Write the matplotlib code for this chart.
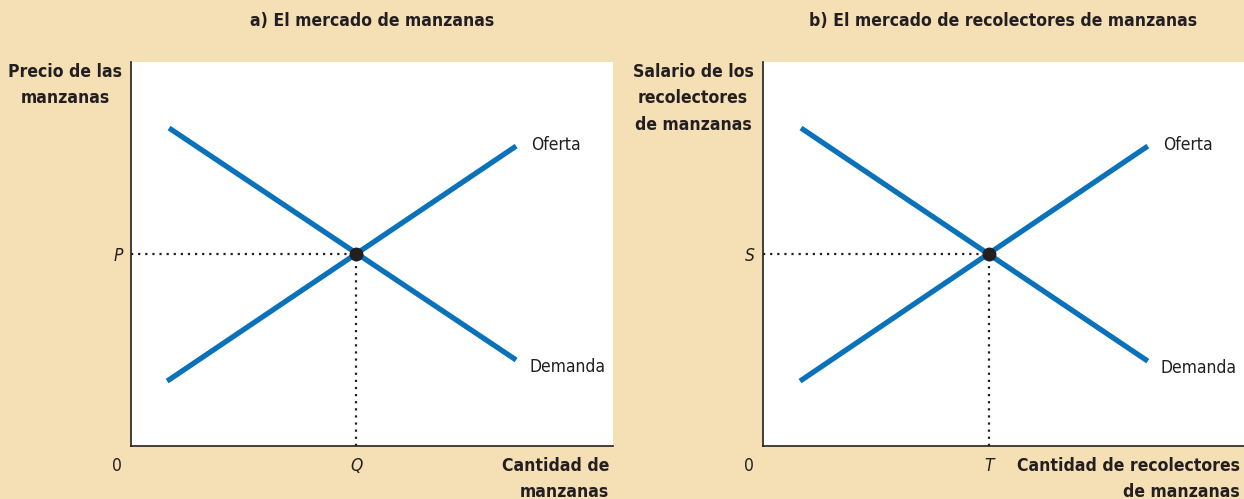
import matplotlib
matplotlib.use("Agg")
import matplotlib.pyplot as plt

plt.rcParams['font.family'] = ['DejaVu Sans']
plt.rcParams['font.stretch'] = 'condensed'

W, H = 1244, 499
BEIGE = '#F5DFB5'
BLUE = '#0A72BA'
DARK = '#231F20'

# Data (abstract units, 0-100 on each axis)
titles = ["a) El mercado de manzanas", "b) El mercado de recolectores de manzanas"]
ylabels = ["Precio de las\nmanzanas", "Salario de los\nrecolectores\nde manzanas"]
xlabels = ["Cantidad de\nmanzanas", "Cantidad de recolectores\nde manzanas"]
price_tick = ["P", "S"]
qty_tick = ["Q", "T"]
demand_x = [[7.9, 79.9], [7.9, 80.0]]
demand_y = [[82.8, 22.4], [82.8, 22.1]]
supply_x = [[7.5, 79.9], [7.7, 80.0]]
supply_y = [[16.9, 78.1], [16.9, 78.1]]
eq_x = [46.7, 47.0]
eq_y = [50.0, 50.0]
curve_labels = ["Oferta", "Demanda"]

fig = plt.figure(figsize=(W/100, H/100), dpi=100)
fig.patch.set_facecolor(BEIGE)

axes_px = [(131, 482), (763, 481)]
title_cx = [372, 1003]
ylab_cx = [65, 693]

def fx(px):
    return px / W

def fy(py):
    return 1 - py / H

for i in range(2):
    left, width = axes_px[i]
    ax = fig.add_axes([fx(left), 53/H, width/W, 384/H])
    ax.set_facecolor('white')
    ax.set_xlim(0, 100)
    ax.set_ylim(0, 100)
    for s in ['top', 'right']:
        ax.spines[s].set_visible(False)
    for s in ['left', 'bottom']:
        ax.spines[s].set_color(DARK)
        ax.spines[s].set_linewidth(1.2)
    ax.plot(demand_x[i], demand_y[i], color=BLUE, lw=3.8, solid_capstyle='butt')
    ax.plot(supply_x[i], supply_y[i], color=BLUE, lw=3.8, solid_capstyle='butt')
    ax.plot([0, eq_x[i]], [eq_y[i], eq_y[i]], color=DARK, lw=1.6, ls=(0, (1, 2.2)))
    ax.plot([eq_x[i], eq_x[i]], [0, eq_y[i]], color=DARK, lw=1.6, ls=(0, (1, 2.2)))
    ax.plot([eq_x[i]], [eq_y[i]], 'o', color=DARK, ms=9, zorder=5)
    ax.set_xticks([eq_x[i]])
    ax.set_xticklabels([qty_tick[i]], fontstyle='italic', fontsize=12.5, color=DARK)
    ax.set_yticks([eq_y[i]])
    ax.set_yticklabels([price_tick[i]], fontstyle='italic', fontsize=12.5, color=DARK)
    ax.tick_params(axis='x', length=0, pad=8)
    ax.tick_params(axis='y', length=0, pad=6)
    ax.text(-3.0, -5.2, "0", ha='center', va='center',
            fontsize=12.5, color=DARK, clip_on=False)
    # curve labels
    ax.text(supply_x[i][1] + 3.2, supply_y[i][1] + 0.3, curve_labels[0], ha='left', va='center',
            fontsize=12.5, color=DARK, clip_on=False)
    ax.text(demand_x[i][1] + 2.7, demand_y[i][1] - 1.7, curve_labels[1], ha='left', va='center',
            fontsize=12.5, color=DARK, clip_on=False)
    # title
    fig.text(fx(title_cx[i]), fy(21), titles[i], ha='center', va='center',
             fontsize=12.6, fontweight='bold', color=DARK)
    # y label
    fig.text(fx(ylab_cx[i]), fy(63), ylabels[i], ha='center', va='top',
             fontsize=12.6, fontweight='bold', color=DARK, linespacing=1.6)
    # x label
    right_px = left + width - 4
    fig.text(fx(right_px), fy(457), xlabels[i], ha='right', va='top',
             fontsize=12.6, fontweight='bold', color=DARK, linespacing=1.6)

fig.savefig("out.png", dpi=100, facecolor=BEIGE)
